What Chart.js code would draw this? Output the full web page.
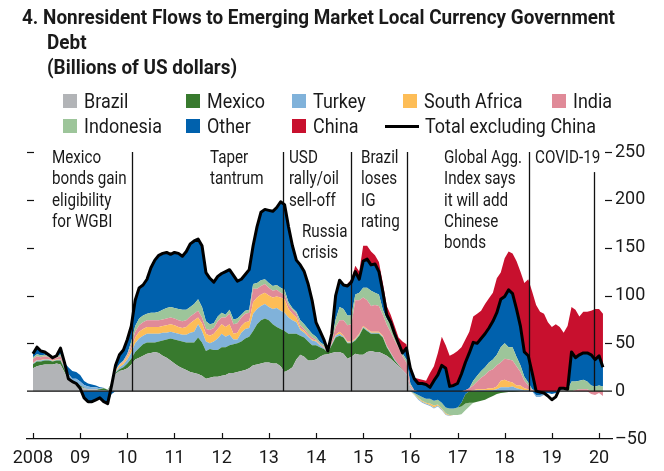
<!DOCTYPE html>
<html>
<head>
<meta charset="utf-8">
<script src="https://cdn.jsdelivr.net/npm/chart.js@4.4.1/dist/chart.umd.min.js"></script>
<style>
  html, body { margin: 0; padding: 0; background: #fff; }
  #wrap { position: relative; width: 664px; height: 471px; overflow: hidden;
    font-family: Roboto, 'Liberation Sans', sans-serif; color: #1a1a1a; }
  #chart { position: absolute; left: 0; top: 0; }
  .title { position: absolute; font-weight: bold; font-size: 21px; line-height: 25px; white-space: nowrap; }
  .note { position: absolute; font-size: 18px; line-height: 21.3px; white-space: nowrap; }
  .item { position: absolute; height: 24px; line-height: 24px; font-size: 20px; white-space: nowrap; }
  .item i { position: absolute; left: 0; top: 5px; width: 14px; height: 14px; }
  .item i.line { top: 11px; width: 34px; height: 3px; background: #000; }
  .item span { position: absolute; top: 0; }
  .probe { position: absolute; visibility: hidden; white-space: nowrap; }
</style>
</head>
<body>
<div id="wrap">
  <canvas id="chart" width="664" height="471"></canvas>
  <div class="title" style="left:22px;top:5px">4. Nonresident Flows to Emerging Market Local Currency Government</div>
  <div class="title" style="left:47px;top:30px">Debt</div>
  <div class="title" style="left:47px;top:55px">(Billions of US dollars)</div>
  <div id="legend"></div>
  <div class="note" style="left:52px;top:146px">Mexico<br>bonds gain<br>eligibility<br>for WGBI</div>
  <div class="note" style="left:210px;top:146px">Taper<br>tantrum</div>
  <div class="note" style="left:289px;top:146px">USD<br>rally/oil<br>sell-off</div>
  <div class="note" style="left:302px;top:220px">Russia<br>crisis</div>
  <div class="note" style="left:361px;top:146px">Brazil<br>loses<br>IG<br>rating</div>
  <div class="note" style="left:444px;top:146px">Global Agg.<br>Index says<br>it will add<br>Chinese<br>bonds</div>
  <div class="note" style="left:535px;top:146px">COVID-19</div>
</div>
<script>
// monthly observations, Jan 2008 .. Feb 2020 (billions of US dollars)
const months = Array.from({ length: 146 }, (_, i) => 2008 + i / 12);

const totalExChina = [
  39, 46, 42, 41, 38, 35, 37, 45, 30, 13, 10, 8,
  3, -7, -11, -11, -9, -7, -11, -13, 6, 27, 38, 43,
  54, 68, 95, 108, 111, 117, 129, 137, 142, 144, 145, 143,
  145, 144, 141, 146, 154, 157, 159, 152, 124, 118, 114, 120,
  123, 125, 127, 121, 115, 117, 122, 127, 152, 172, 187, 190,
  189, 188, 192, 198, 195, 172, 152, 137, 132, 125, 112, 95,
  72, 63, 54, 42, 60, 100, 116, 111, 110, 114, 125, 117,
  136, 138, 132, 133, 125, 104, 80, 72, 60, 50, 40, 45,
  24, 13, 8, 8, 7, 4, 11, 17, 27, 24, 5, 6,
  8, 18, 30, 40, 51, 50, 55, 60, 66, 73, 82, 96,
  99, 106, 102, 86, 68, 41, 37, 19, 0, -1, -2, -5,
  -9, -6, 3, 3, 2, 41, 35, 38, 40, 40, 38, 33,
  37, 25
];

const brazil = [
  24, 26, 27, 28, 28, 28, 29, 28, 20, 12, 9, 8,
  5, 3, 2, 2, 2, 1, 1, 0.5, 8, 18, 21, 22,
  24, 28, 33, 35, 37, 39, 40, 41, 40, 37, 35, 32,
  29, 26, 24, 22, 20, 19, 18, 16, 13, 14, 15, 15,
  16, 17, 19, 19, 20, 21, 22, 24, 27, 28, 29, 30,
  30, 29, 29, 26, 20, 22, 25, 33, 38, 36, 32, 32,
  33, 36, 38, 38.5, 40, 41, 41, 39, 34, 36, 39, 38,
  38, 41, 42, 41, 41, 39, 37, 34, 30, 26, 22, 18,
  4, 0, 0, 0, 0, 0, 0, 0, 0, 0, 0, 0,
  0, 0, 0, 0, 0, 0, 0, 0, 0, 0, 0, 0,
  0, 0, 0, 0, 0, 0, 0, 0, 0, 0, 0, 0,
  0, 0, 1, 2, 1, 0, 0, 0, 0, 0, 0, 0,
  0, 0
];

const mexico = [
  4, 5, 4, 4, 4, 3, 3, 4, 3, 2, 1, 1,
  1, 0.5, 0, 0, 0, 1, 2, 1, 0.5, 1, 2, 3,
  5, 6, 8, 10, 12, 12, 11, 10, 12, 16, 19, 23,
  25, 27, 28, 29, 31, 32, 38, 35, 29, 30, 28, 28,
  30, 29, 29, 30, 30, 31, 33, 33, 36, 42, 45, 46,
  44, 41, 38, 39, 43, 38, 35, 27, 20, 20, 20, 16,
  15, 10, 6, 2, 8, 15, 17, 17, 16, 14, 14, 20,
  28, 22, 18, 19, 19, 17, 9, 5, 2, 1, 0.5, 0,
  0, 0, 0, 0, 0, 0, 0, 0, 0, 0, 0, 0,
  0, -4, -10, -12, -12, -11, -10, -9, -7, -5, -3, -2,
  -1.5, -1, -1, -0.5, 0, 0, 0, 0, 0, 0, 0, 0,
  0, 0, 0, 0, 0, 0, 0, 0, 0, 0, 0, 0,
  0, 0
];

const turkey = [
  1, 1, 1, 1, 1, 0.5, 0.5, 1, 2, 3, 3, 4,
  4, 3, 3, 2, 2, 1, 0.5, 0, 0, 1, 2, 3,
  4, 6, 9, 10, 9, 9, 9, 9, 8, 8, 7, 7,
  7, 7, 7, 8, 10, 11, 14, 12, 10, 6, 9, 12,
  14, 11, 11, 5, 4, 9, 10, 9, 18, 16, 15, 15,
  14, 16, 20, 19, 19, 17, 14, 12, 6, 5, 5, 5,
  4, 2, 1, 0.5, 1, 2, 2, 1, 1, 1, 1, 1,
  1, 1, 1, 1, 1, 1, 1, 1, 1, 0.5, 0, 0,
  0, -0.5, -1, -1, -1, -1, -1, -1, -1, -1, -0.5, 0,
  0, 0, 0, 0, 0.5, 1, 1, 1, 1, 1, 2, 4,
  4, 4, 5, 3, 2, 1, 1, 0, -2, -2, -1, 0,
  0, 0, 0, 0, 0, 0, 0, 0, 0, 0, 0, 0,
  0, 0
];

const southAfrica = [
  0.5, 0.5, 0.5, 0.5, 0.5, 0.5, 0.5, 0.5, 0.5, 0, 0, 0,
  0, 0, 0, 0, 0, 0, 0, 0, 0, 1, 2, 2,
  3, 4, 6, 7, 7, 7, 7, 7, 7, 7, 8, 8,
  8, 7, 7, 8, 10, 12, 7, 8, 8, 8, 8, 10,
  10, 10, 11, 6, 7, 7, 7, 7, 12, 12, 12, 12,
  12, 12, 12, 14, 14, 9, 7, 5, 2, 2, 1, 1,
  1, 0.5, 0.5, 0, 0.5, 1, 2, 1, 1, 1, 1, 1,
  1, 1, 1, 1, 1, 1, 0.5, 0.5, 0, 0, 0, 0,
  0, -0.5, -1, -1, -1, -1.5, -2, -1, -1, -1, -0.5, 0,
  0, 0, 0, 0, 0.5, 1, 1, 1, 2, 2, 3, 7,
  8, 6, 4, 3, 4, 2, 1, 0, 0, 0, 0, 0,
  0, 0, 0, 0, 0, 0, 0, 0, 0, 0, 0, 0,
  0, 0
];

const india = [
  4, 4, 3, 3, 2, 2, 2, 3, 1, 0.5, 0, 0,
  0, 0, 0, 0, 0, 0, 0, 0, 0, 0.5, 1, 1,
  2, 4, 6, 7, 7, 7, 7, 7, 7, 7, 7, 7,
  7, 7, 7, 7, 7, 7, 7, 6, 5, 6, 6, 8,
  7, 10, 11, 10, 10, 9, 9, 9, 14, 9, 9, 9,
  8, 7, 7, 5, 5, 4, 4, 4, 3, 2, 2, 2,
  1, 1, 1, 0.5, 3, 8, 12, 16, 17, 18, 40, 35,
  30, 30, 27, 28, 27, 22, 22, 21, 20, 18, 14, 12,
  2, 1, 0, 0, 0, 0, 0, 0, 0, 0, 0, 0,
  0, 0, 1, 3, 5, 8, 12, 15, 18, 20, 22, 19,
  22, 23, 23, 20, 14, 8, 4, 1, 0, 0, 0, 0,
  0, 0, 0, 0, 0, 0, 1, 2, 2, 2, -3, -4,
  -2, -5
];

const indonesia = [
  2, 2, 2, 1.5, 1, 1, 1, 2, 1, 0.5, 0, 0,
  0, 0, 0, 0, 0, 0, 0, 0, 0, 0.5, 0.5, 1,
  1, 4, 6, 7, 7, 7, 8, 8, 9, 10, 11, 11,
  11, 12, 12, 11, 10, 10, 12, 11, 8, 6, 5, 5,
  5, 3, 4, 5, 5, 3, 3, 3, 5, 6, 6, 5,
  5, 5, 5, 5, 5, 3, 2, 2, 5, 5, 5, 4,
  3, 2, 2, 0.5, 2, 8, 14, 12, 10, 9, 6, 8,
  10, 13, 16, 13, 12, 5, 6, 8, 6, 4, 3, 3,
  2, -1, -3, -4, -4, -5, -5, -5, -6, -6, -7, -7,
  -8, -8, -7, -4, 5, 6, 7, 8, 9, 10, 11, 16,
  16, 13, 14, 10, 7, 4, 3, 1, 0, 0, 0, 0,
  0, 0, 0, 0, 0, 10, 9, 9, 10, 8, 6, 5,
  6, 5
];

// "Other" shows up on both sides of zero in the same months
const otherUp = [
  3.5, 7.5, 4.5, 3, 1.5, 0, 1, 6.5, 2.5, 7, 8, 7,
  7, 4, 3, 3, 2, 1, 0, 0, 0, 5, 9.5, 11,
  15, 16, 27, 32, 32, 36, 47, 55, 59, 59, 58, 55,
  58, 58, 56, 61, 66, 66, 63, 64, 51, 48, 43, 42,
  41, 45, 42, 46, 39, 37, 38, 42, 40, 59, 71, 73,
  76, 78, 81, 90, 89, 79, 65, 54, 58, 55, 47, 35,
  15, 11.5, 5.5, 0, 5.5, 25, 28, 25, 31, 35, 24, 14,
  28, 30, 27, 30, 24, 19, 4.5, 2.5, 1, 0.5, 0.5, 12,
  16, 12, 8, 8, 7, 4, 11, 17, 27, 24, 5, 6,
  8, 18, 29, 37, 40, 34, 34, 35, 36, 40, 44, 50,
  49, 60, 56, 50, 41, 26, 28, 17, 0, 0, 0, 0,
  0, 0, 2, 1, 1, 31, 25, 27, 28, 30, 32, 28,
  31, 20
];

const otherDown = [
  0, 0, 0, 0, 0, 0, 0, 0, 0, 0, 0, 0,
  0, -8, -11, -11, -9, -7, -10, -13, -3, 0, 0, 0,
  0, 0, 0, 0, 0, 0, 0, 0, 0, 0, 0, 0,
  0, 0, 0, 0, 0, 0, 0, 0, 0, 0, 0, 0,
  0, 0, 0, 0, 0, 0, 0, 0, 0, 0, 0, 0,
  0, 0, 0, 0, 0, 0, 0, 0, 0, 0, 0, 0,
  0, 0, 0, 0, 0, 0, 0, 0, 0, 0, 0, 0,
  0, 0, 0, 0, 0, 0, 0, 0, 0, 0, 0, 0,
  0, -2, -4, -6, -8, -8, -10, -9, -12, -17, -18, -18,
  -17, -12, -3, 0, 0, 0, 0, 0, 0, 0, 0, 0,
  0, 0, 0, 0, 0, 0, 0, 0, -4, -4, -3, -2,
  -3, -2, 0, 0, 0, 0, 0, 0, 0, 0, 0, 0,
  0, 0
];

const china = [
  0, 0, 0, 0, 0, 0, 0, 0, 0, 0, 0, 0,
  0, 0, 0, 0, 0, 0, 0, 0, 0, 0, 0, 0,
  0, 0, 0, 0, 0, 0, 0, 0, 0, 0, 0, 0,
  0, 0, 0, 0, 0, 0, 0, 0, 0, 0, 0, 0,
  0, 0, 0, 0, 0, 0, 0, 0, 0, 0, 0, 0,
  0, 0, 0, 0, 0, 0, 0, 0, 0, 0, 0, 0,
  0, 0, 0, 0, 0, 0, 0, 0, 2, 3, 6, 8,
  16, 14, 14, 9, 10, 9, 9, 8, 8, 6, 12, 4,
  0, 1, 5, 4, 4, 15, 15, 23, 30, 24, 32, 33,
  34, 28, 24, 22, 27, 31, 29, 31, 31, 30, 36, 28,
  40, 40, 42, 50, 57, 72, 80, 85, 90, 83, 81, 72,
  67, 70, 64, 58, 66, 47, 50, 40, 43, 43, 46, 53,
  49, 56
];

const tickYears = [2008, 2009, 2010, 2011, 2012, 2013, 2014, 2015, 2016, 2017, 2018, 2019, 2020];
const yearLabels = ['2008', '09', '10', '11', '12', '13', '14', '15', '16', '17', '18', '19', '20'];

// event markers: date (decimal year) and how high the line goes
const eventDates = [2010.09, 2013.30, 2014.745, 2015.92, 2018.52, 2019.895];
const eventTops = [250, 250, 250, 250, 250, 229];

const COLORS = {
  brazil: '#b2b4b7', mexico: '#387a2e', turkey: '#80b2da', southAfrica: '#fdbd57',
  india: '#e08a98', indonesia: '#9dc59a', other: '#0061ad', china: '#c8102e'
};

const FONT = "Roboto, 'Liberation Sans', sans-serif";

// legend
const legendItems = [
  ['Brazil', COLORS.brazil, 63, 89], ['Mexico', COLORS.mexico, 186, 89],
  ['Turkey', COLORS.turkey, 292, 89], ['South Africa', COLORS.southAfrica, 403, 89],
  ['India', COLORS.india, 552, 89], ['Indonesia', COLORS.indonesia, 63, 114],
  ['Other', COLORS.other, 186, 114], ['China', COLORS.china, 292, 114],
  ['Total excluding China', null, 385, 114]
];
const wrap = document.getElementById('wrap');
const legendEl = document.getElementById('legend');
legendItems.forEach(([name, color, left, top]) => {
  const d = document.createElement('div');
  d.className = 'item';
  d.style.left = left + 'px';
  d.style.top = top + 'px';
  if (color) {
    d.innerHTML = '<i style="background:' + color + '"></i><span style="left:21px">' + name + '</span>';
  } else {
    d.innerHTML = '<i class="line"></i><span style="left:40px">' + name + '</span>';
  }
  legendEl.appendChild(d);
});

// the original uses a condensed face: squeeze each text group to the width it has there
function condense(els, cls, sample, target) {
  const probe = document.createElement('span');
  probe.className = 'probe ' + cls;
  probe.textContent = sample;
  wrap.appendChild(probe);
  const k = target / probe.getBoundingClientRect().width;
  probe.remove();
  els.forEach(e => { e.style.transformOrigin = 'left top'; e.style.transform = 'scaleX(' + k + ')'; });
}
condense(document.querySelectorAll('.title'), 'title',
  '4. Nonresident Flows to Emerging Market Local Currency Government', 593);
condense(document.querySelectorAll('.item span'), 'item', 'Total excluding China', 171);
condense(document.querySelectorAll('.note'), 'note', 'Global Agg.', 78);

// positive parts stack upward, negative parts stack downward
const up = arr => arr.map(v => Math.max(v, 0));
const down = arr => arr.map(v => Math.min(v, 0));

function area(label, data, color, stack, fill) {
  return {
    label, data, stack, fill,
    backgroundColor: color, borderColor: 'transparent', borderWidth: 0,
    pointRadius: 0, tension: 0
  };
}

const datasets = [
  {
    label: 'Total excluding China', data: totalExChina, stack: 'total', fill: false,
    borderColor: '#000', borderWidth: 3, pointRadius: 0, tension: 0, borderJoinStyle: 'round'
  },
  area('Brazil', up(brazil), COLORS.brazil, 'pos', 'origin'),
  area('Mexico', up(mexico), COLORS.mexico, 'pos', '-1'),
  area('Turkey', up(turkey), COLORS.turkey, 'pos', '-1'),
  area('South Africa', up(southAfrica), COLORS.southAfrica, 'pos', '-1'),
  area('India', up(india), COLORS.india, 'pos', '-1'),
  area('Indonesia', up(indonesia), COLORS.indonesia, 'pos', '-1'),
  area('Other', otherUp, COLORS.other, 'pos', '-1'),
  area('China', up(china), COLORS.china, 'pos', '-1'),
  area('Other', otherDown, COLORS.other, 'neg', 'origin'),
  area('Mexico', down(mexico), COLORS.mexico, 'neg', '-1'),
  area('Indonesia', down(indonesia), COLORS.indonesia, 'neg', '-1'),
  area('India', down(india), COLORS.india, 'neg', '-1'),
  area('South Africa', down(southAfrica), COLORS.southAfrica, 'neg', '-1'),
  area('Turkey', down(turkey), COLORS.turkey, 'neg', '-1')
];

// zero line, event lines and inward tick marks, drawn under the total line
const decor = {
  id: 'decor',
  beforeDatasetDraw(chart, args) {
    if (args.index !== 0) return;
    const { ctx, chartArea: a, scales: { x, y } } = chart;
    const seg = (x1, y1, x2, y2) => { ctx.beginPath(); ctx.moveTo(x1, y1); ctx.lineTo(x2, y2); ctx.stroke(); };
    ctx.save();
    ctx.strokeStyle = '#111';
    ctx.lineWidth = 1.3;
    const y0 = y.getPixelForValue(0);
    seg(a.left, y0, a.right, y0);
    eventDates.forEach((d, k) => {
      const px = Math.round(x.getPixelForValue(d)) + 0.5;
      seg(px, y0, px, y.getPixelForValue(eventTops[k]));
    });
    ctx.lineWidth = 1.2;
    [50, 100, 150, 200, 250].forEach(v => {
      const py = Math.round(y.getPixelForValue(v)) + 0.5;
      seg(a.left, py, a.left + 7, py);
      seg(a.right - 7, py, a.right, py);
    });
    tickYears.forEach(t => {
      const px = Math.round(x.getPixelForValue(t)) + 0.5;
      seg(px, a.bottom, px, a.bottom - 6);
    });
    ctx.restore();
  }
};

Chart.defaults.font.family = FONT;
Chart.defaults.color = '#1a1a1a';

new Chart(document.getElementById('chart'), {
  type: 'line',
  data: { labels: months, datasets },
  plugins: [decor],
  options: {
    responsive: false,
    animation: false,
    layout: { padding: { left: 27, top: 152, right: 0, bottom: 0 } },
    plugins: { legend: { display: false }, tooltip: { enabled: false } },
    scales: {
      x: {
        type: 'linear',
        min: 2007.873,
        max: 2020.275,
        afterBuildTicks: s => { s.ticks = tickYears.map(v => ({ value: v })); },
        ticks: {
          autoSkip: false, maxRotation: 0, padding: 9,
          font: { size: 18 },
          callback: v => yearLabels[tickYears.indexOf(v)]
        },
        grid: { display: false, drawTicks: false },
        border: { display: true, color: '#111', width: 1.3 },
        afterFit: s => { s.height = 32; }
      },
      y: {
        position: 'right',
        stacked: true,
        min: -50,
        max: 250,
        ticks: {
          stepSize: 50, padding: 3,
          font: { size: 18 },
          callback: v => (v < 0 ? '\u2013' + Math.abs(v) : String(v))
        },
        grid: { display: false, drawTicks: false },
        border: { display: false },
        afterFit: s => { s.width = 52; }
      }
    }
  }
});
</script>
</body>
</html>
